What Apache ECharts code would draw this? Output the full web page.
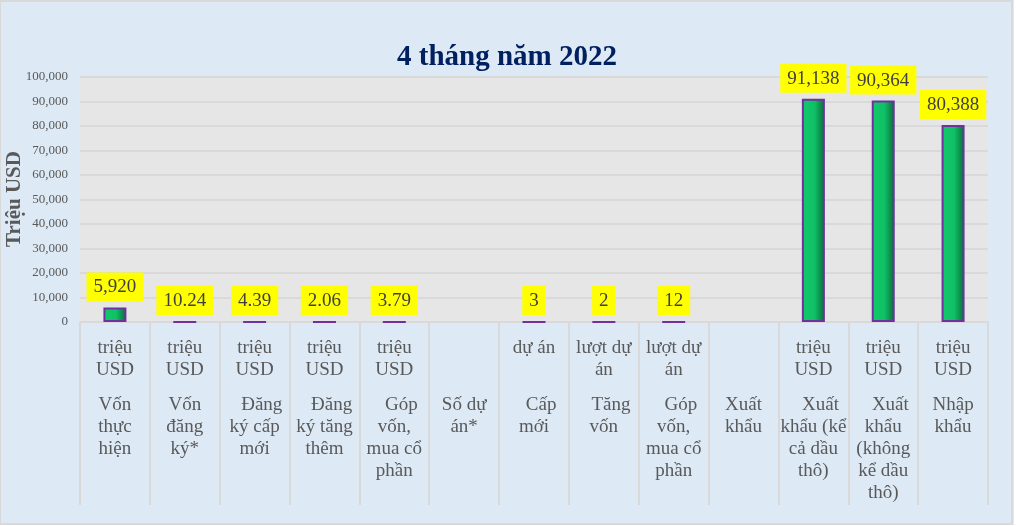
<!DOCTYPE html>
<html>
<head>
<meta charset="utf-8">
<script src="https://cdn.jsdelivr.net/npm/echarts@6/dist/echarts.min.js"></script>
<style>
  html, body { margin: 0; padding: 0; background: #ffffff; }
  #chart { position: absolute; left: 0; top: 0; width: 1014px; height: 525px; }
</style>
</head>
<body>
<div id="chart"></div>
<script>
// ---- data ----
const titleText = '4 tháng năm 2022';
const yAxisName = 'Triệu USD';
const categories = [
  'Vốn thực hiện', 'Vốn đăng ký*', 'Đăng ký cấp mới', 'Đăng ký tăng thêm',
  'Góp vốn, mua cổ phần', 'Số dự án*', 'Cấp mới', 'Tăng vốn',
  'Góp vốn, mua cổ phần ', 'Xuất khẩu', 'Xuất khẩu (kể cả dầu thô)',
  'Xuất khẩu (không kể dầu thô)', 'Nhập khẩu'
];
const unitLines = [
  'triệu\nUSD', 'triệu\nUSD', 'triệu\nUSD', 'triệu\nUSD', 'triệu\nUSD', '',
  'dự án', 'lượt dự\nán', 'lượt dự\nán', '', 'triệu\nUSD', 'triệu\nUSD', 'triệu\nUSD'
];
const nameLines = [
  'Vốn\nthực\nhiện',
  'Vốn\nđăng\nký*',
  '\u00a0\u00a0\u00a0Đăng\nký cấp\nmới',
  '\u00a0\u00a0\u00a0Đăng\nký tăng\nthêm',
  '\u00a0\u00a0\u00a0Góp\nvốn,\nmua cổ\nphần',
  'Số dự\nán*',
  '\u00a0\u00a0\u00a0Cấp\nmới',
  '\u00a0\u00a0\u00a0Tăng\nvốn',
  '\u00a0\u00a0\u00a0Góp\nvốn,\nmua cổ\nphần',
  'Xuất\nkhẩu',
  '\u00a0\u00a0\u00a0Xuất\nkhẩu (kể\ncả dầu\nthô)',
  '\u00a0\u00a0\u00a0Xuất\nkhẩu\n(không\nkể dầu\nthô)',
  'Nhập\nkhẩu'
];
const values = [5920, 10.24, 4.39, 2.06, 3.79, null, 3, 2, 12, null, 91138, 90364, 80388];
const yMin = 0, yMax = 100000, yStep = 10000;

// ---- chart ----
const FONT = '"Liberation Serif", "DejaVu Serif", serif';
const fmtNum = v => v >= 1000 ? Math.round(v).toLocaleString('en-US') : String(v);

const chart = echarts.init(document.getElementById('chart'));
chart.setOption({
  backgroundColor: '#dde9f5',
  animation: false,
  title: {
    text: titleText,
    left: 'center',
    top: 38,
    textStyle: { fontFamily: FONT, fontSize: 29, fontWeight: 'bold', color: '#002060' }
  },
  graphic: [{
    type: 'rect',
    silent: true,
    shape: { x: 0, y: 1, width: 1012, height: 523 },
    style: { fill: 'none', stroke: '#d9d9d9', lineWidth: 2 }
  }, {
    type: 'text',
    x: 15, y: 199,
    rotation: Math.PI / 2,
    style: {
      text: yAxisName,
      align: 'center', verticalAlign: 'middle',
      font: 'bold 21px ' + FONT,
      fill: '#595959'
    }
  }],
  grid: {
    left: 80, right: 26, top: 77, bottom: 203,
    containLabel: false,
    outerBoundsMode: 'none',
    show: true, backgroundColor: '#e6e6e6', borderWidth: 0
  },
  xAxis: {
    type: 'category',
    data: categories,
    axisLine: { show: true, lineStyle: { color: '#d9d9d9', width: 2 } },
    axisTick: { show: true, interval: 0, alignWithLabel: false, length: 183,
      lineStyle: { color: '#d9d9d9', width: 2 } },
    axisLabel: {
      interval: 0,
      margin: 15,
      hideOverlap: false,
      formatter: function (value, idx) {
        const u = unitLines[idx] ? unitLines[idx].split('\n') : [];
        while (u.length < 2) u.push('\u00a0');
        const parts = u.map(s => '{u|' + s + '}');
        parts.push('{g|\u00a0}');
        nameLines[idx].split('\n').forEach(s => parts.push('{n|' + s + '}'));
        return parts.join('\n');
      },
      rich: {
        u: { fontFamily: FONT, fontSize: 19, lineHeight: 22, color: '#595959', align: 'center' },
        g: { fontFamily: FONT, fontSize: 10, lineHeight: 13, color: '#595959' },
        n: { fontFamily: FONT, fontSize: 19, lineHeight: 22, color: '#595959', align: 'center' }
      }
    }
  },
  yAxis: {
    type: 'value',
    min: yMin, max: yMax, interval: yStep,
    axisLine: { show: false },
    axisTick: { show: false },
    axisLabel: {
      margin: 12,
      fontFamily: FONT, fontSize: 13, color: '#595959',
      formatter: v => Number(v).toLocaleString('en-US')
    },
    splitLine: { show: true, lineStyle: { color: '#d9d9d9', width: 2 } }
  },
  series: [{
    type: 'bar',
    data: values,
    barWidth: 23,
    itemStyle: {
      color: new echarts.graphic.LinearGradient(0, 0, 1, 0, [
        { offset: 0, color: '#12c96b' },
        { offset: 0.55, color: '#10c066' },
        { offset: 1, color: '#086b38' }
      ]),
      borderColor: '#7030a0',
      borderWidth: 2
    },
    label: {
      show: true,
      position: 'top',
      distance: 6,
      formatter: p => fmtNum(p.value),
      fontFamily: FONT, fontSize: 19, color: '#404040',
      backgroundColor: '#ffff00',
      padding: [5, 7, 4, 7],
      lineHeight: 20
    }
  }]
});
</script>
</body>
</html>
